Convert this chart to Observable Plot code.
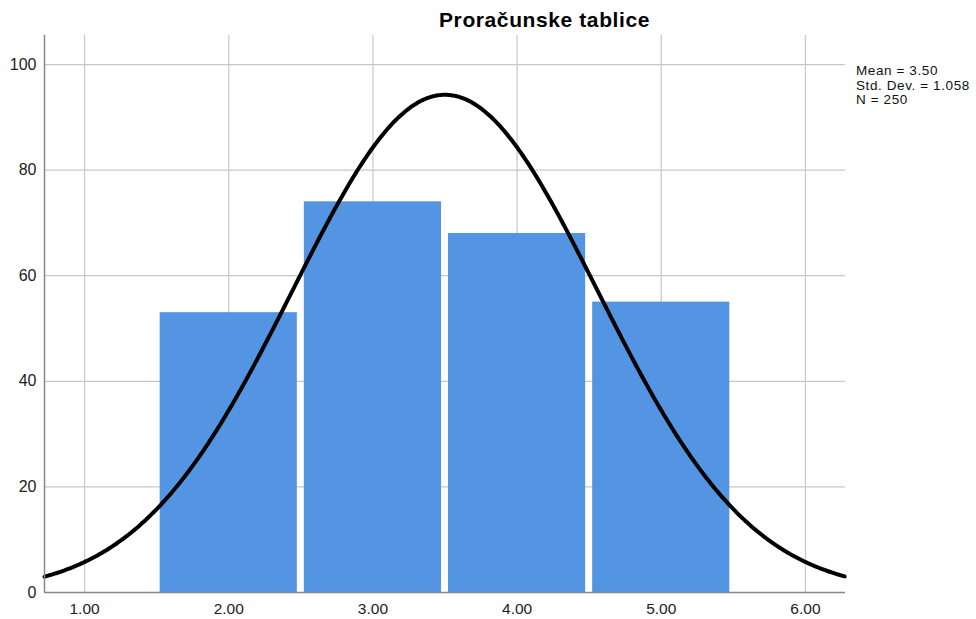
<!DOCTYPE html>
<html>
<head>
<meta charset="utf-8">
<script src="https://cdn.jsdelivr.net/npm/d3@7"></script>
<script src="https://cdn.jsdelivr.net/npm/@observablehq/plot@0.6"></script>
<style>
  body { margin: 0; background: #fff; font-family: "Liberation Sans", Arial, sans-serif; }
  #wrap { position: relative; width: 976px; height: 619px; }
  #title { position: absolute; left: 0; width: 1089px; top: 8px; text-align: center; font-weight: bold; font-size: 21px; letter-spacing: 0.6px; color: #000; white-space: nowrap; }
  #stats { position: absolute; left: 856px; top: 64px; font-size: 13.5px; line-height: 14.5px; letter-spacing: 0.6px; color: #111; white-space: nowrap; }
  #chart { position: absolute; left: 0; top: 0; }
</style>
</head>
<body>
<div id="wrap">
  <div id="chart"></div>
  <div id="title"></div>
  <div id="stats"></div>
</div>
<script>
const title = "Proračunske tablice";
const bins = [2, 3, 4, 5];
const counts = [53, 74, 68, 55];
const binWidth = 1;
const mean = 3.50;
const stdDev = 1.058;
const N = 250;
const xTicks = [1, 2, 3, 4, 5, 6];
const yTicks = [0, 20, 40, 60, 80, 100];
const statLines = ["Mean = 3.50", "Std. Dev. = 1.058", "N = 250"];

document.getElementById("title").textContent = title;
document.getElementById("stats").innerHTML = statLines.join("<br>");

const xDomain = [0.722, 6.278];
const yDomain = [0, 105.5];

const bars = bins.map((b, i) => ({x1: b - binWidth / 2, x2: b + binWidth / 2, y: counts[i]}));

// Fitted normal curve from the stated mean, std. dev. and N
const curve = d3.range(xDomain[0], xDomain[1] + 1e-9, 0.01).map(x => ({
  x,
  y: N * binWidth * Math.exp(-0.5 * ((x - mean) / stdDev) ** 2) / (stdDev * Math.sqrt(2 * Math.PI))
}));

const chart = Plot.plot({
  width: 976,
  height: 619,
  marginLeft: 44,
  marginRight: 131,
  marginTop: 35,
  marginBottom: 27,
  style: {fontFamily: "Liberation Sans, Arial, sans-serif", fontSize: "15.5px", color: "#222", background: "#fff"},
  x: {domain: xDomain, ticks: xTicks},
  y: {domain: yDomain, ticks: yTicks},
  marks: [
    Plot.gridX(xTicks, {stroke: "#c8c8c8", strokeOpacity: 1, strokeWidth: 1.2}),
    Plot.gridY(yTicks.filter(d => d > 0), {stroke: "#c8c8c8", strokeOpacity: 1, strokeWidth: 1.2}),
    Plot.rectY(bars, {x1: "x1", x2: "x2", y: "y", fill: "#5394e3", insetLeft: 3.5, insetRight: 3.5}),
    Plot.line(curve, {x: "x", y: "y", stroke: "#000", strokeWidth: 4}),
    Plot.ruleY([0], {stroke: "#888", strokeWidth: 1.5}),
    Plot.ruleX([xDomain[0]], {y1: yDomain[0], y2: yDomain[1], stroke: "#888", strokeWidth: 1.5}),
    Plot.axisX(xTicks, {tickSize: 0, tickPadding: 10, fontSize: 15.5, tickFormat: d => d.toFixed(2), label: null}),
    Plot.axisY(yTicks, {tickSize: 0, tickPadding: 8, fontSize: 16, label: null})
  ]
});
document.getElementById("chart").appendChild(chart);
</script>
</body>
</html>
